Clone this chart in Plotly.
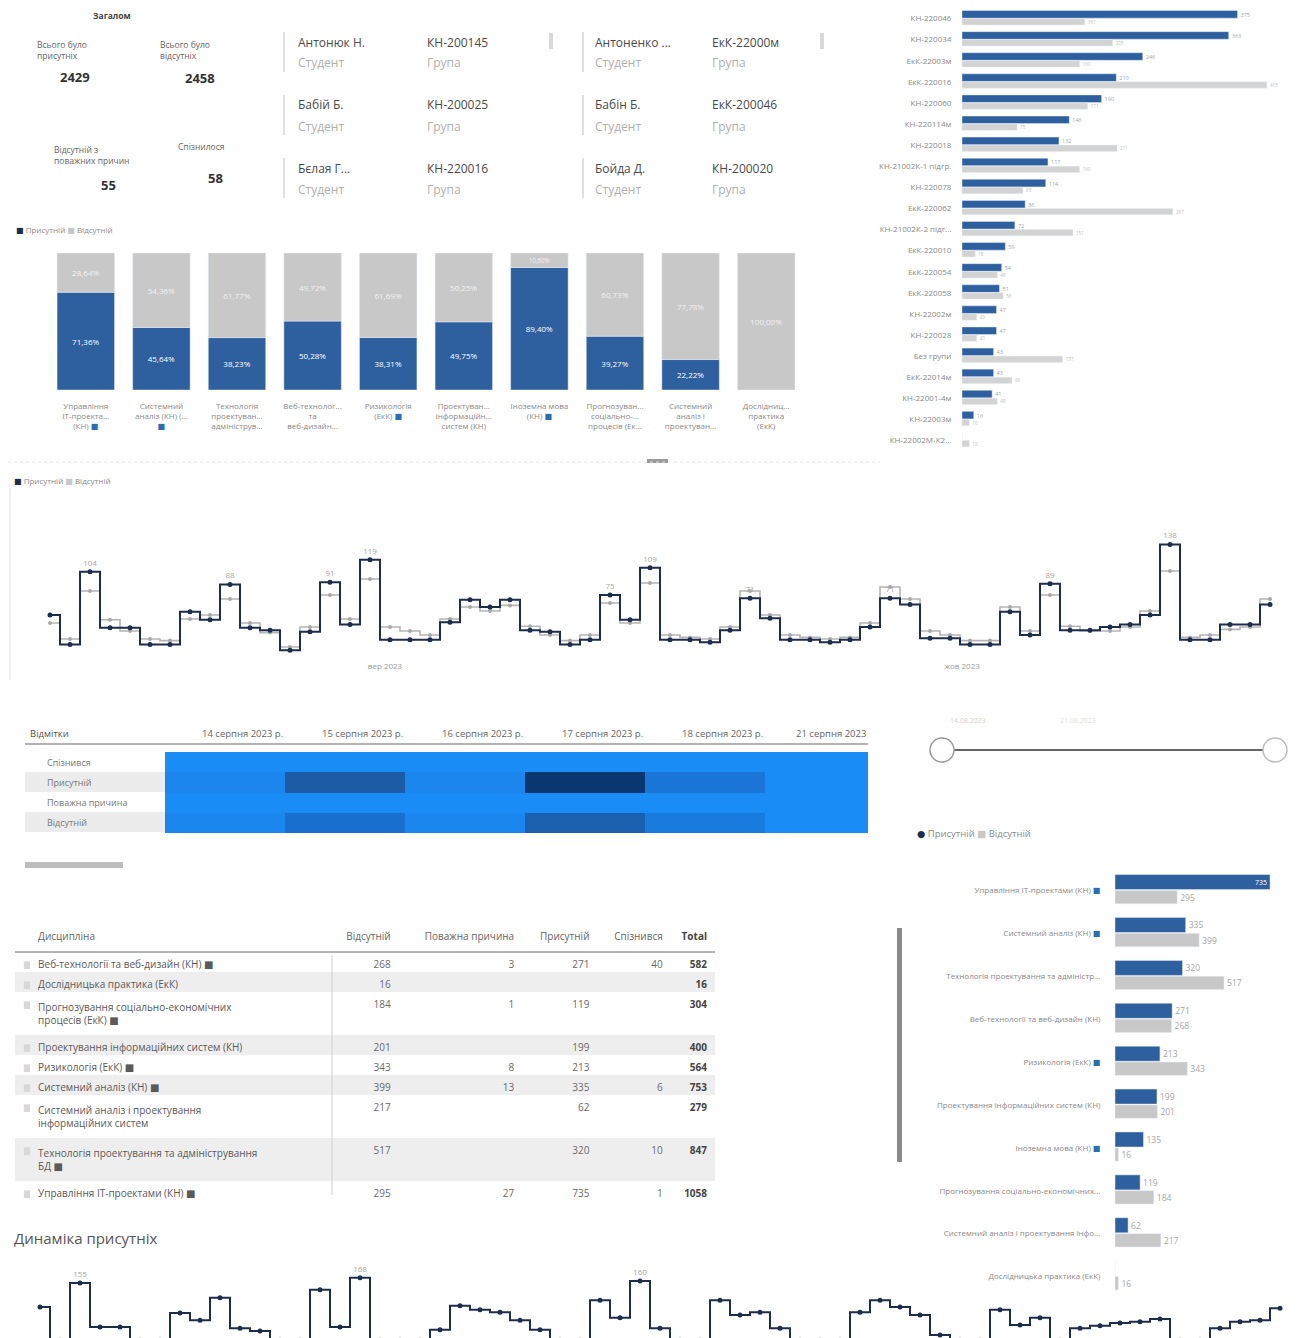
import plotly.graph_objects as go

W, H = 1306, 1338
OFF = 8  # default page body margin
FW, FH = W - OFF, H - OFF
def X(p): return (p - OFF) / FW
def Y(p): return 1 - (p - OFF) / FH
def D(a, b): return [min(max(a, 0), 1), min(max(b, 0), 1)]

BLUE = "#2e5f9e"
NAVY = "#1d2e4d"
GRAY = "#c8c8c8"
TXT = "#605e5c"
LT = "#a6a6a6"
FONT = "Open Sans, Noto Sans, DejaVu Sans, sans-serif"
CHK = "<span style='color:#2a6db5'>■</span>"
NB = "\u00a0"

# ---------------- DATA ----------------
kpi_title = "Загалом"
kpi_labels = ["Всього було<br>присутніх", "Всього було<br>відсутніх",
              "Відсутній з<br>поважних причин", "Спізнилося"]
kpi_values = [2429, 2458, 55, 58]

students = ["Антонюк Н.", "Антоненко ...", "Бабій Б.", "Бабін Б.", "Бєлая Г...", "Бойда Д."]
student_groups = ["КН-200145", "ЕкК-22000м", "КН-200025", "ЕкК-200046", "КН-220016", "КН-200020"]

groups = ["КН-220046", "КН-220034", "ЕкК-22003м", "ЕкК-220016", "КН-220060", "КН-220114м",
          "КН-220018", "КН-21002К-1 підгр.", "КН-220078", "ЕкК-220062", "КН-21002К-2 підг...",
          "ЕкК-220010", "ЕкК-220054", "ЕкК-220058", "КН-22002м", "КН-220028", "Без групи",
          "ЕкК-22014м", "КН-22001-4м", "КН-22003м", "КН-22002М-К2..."]
grp_present = [375, 363, 246, 210, 190, 146, 132, 117, 114, 86, 72, 59, 54, 51, 47, 47, 43, 43, 41, 16, 0]
grp_absent = [167, 205, 160, 415, 171, 75, 211, 160, 83, 287, 151, 18, 48, 56, 20, 20, 137, 68, 48, 10, 10]

# disciplines ordered by present (column chart and bottom-right bar chart)
disc_short_col = ["Управління<br>ІТ-проекта...<br>(КН) " + CHK,
                  "Системний<br>аналіз (КН) (...<br>" + CHK,
                  "Технологія<br>проектуван...<br>адмініструв...",
                  "Веб-технолог...<br>та<br>веб-дизайн...",
                  "Ризикологія<br>(ЕкК) " + CHK,
                  "Проектуван...<br>інформаційн...<br>систем (КН)",
                  "Іноземна мова<br>(КН) " + CHK,
                  "Прогнозуван...<br>соціально-...<br>процесів (Ек...",
                  "Системний<br>аналіз і<br>проектуван...",
                  "Дослідниц...<br>практика<br>(ЕкК)"]
disc_short_bar = ["Управління IT-проектами (КН) " + CHK,
                  "Системний аналіз (КН) " + CHK,
                  "Технологія проектування та адміністр...",
                  "Веб-технології та веб-дизайн (КН)",
                  "Ризикологія (ЕкК) " + CHK,
                  "Проектування інформаційних систем (КН)",
                  "Іноземна мова (КН) " + CHK,
                  "Прогнозування соціально-економічних...",
                  "Системний аналіз і проектування інфо...",
                  "Дослідницька практика (ЕкК)"]
disc_present = [735, 335, 320, 271, 213, 199, 135, 119, 62, 0]
disc_absent = [295, 399, 517, 268, 343, 201, 16, 184, 217, 16]

# daily step chart (top)
day_present = [50, 13, 104, 34, 34, 13, 13, 54, 44, 88, 34, 31, 6, 29, 91, 38, 119, 19, 19, 19, 41, 69,
               60, 69, 31, 29, 13, 19, 75, 44, 109, 19, 19, 16, 31, 71, 46, 19, 19, 16, 19, 35, 71, 63,
               21, 21, 13, 13, 54, 25, 89, 31, 31, 35, 38, 50, 138, 19, 19, 38, 38, 63]
day_absent = [40, 20, 80, 44, 30, 20, 18, 45, 50, 70, 40, 28, 10, 35, 75, 45, 95, 35, 30, 25, 45, 60,
              55, 62, 36, 25, 18, 25, 65, 40, 90, 25, 22, 20, 35, 80, 50, 25, 22, 20, 22, 40, 85, 70,
              30, 25, 18, 18, 60, 30, 75, 36, 30, 30, 35, 55, 105, 22, 25, 32, 35, 70]
month_ticks = ["вер 2023", "жов 2023"]

# matrix
mark_rows = ["Спізнився", "Присутній", "Поважна причина", "Відсутній"]
mark_dates = ["14 серпня 2023 р.", "15 серпня 2023 р.", "16 серпня 2023 р.",
              "17 серпня 2023 р.", "18 серпня 2023 р.", "21 серпня 2023"]
mark_z = [[0, 0, 0, 0, 0, 0],
          [1, 9, 1, 14, 4, 0],
          [0, 0, 0, 0, 0, 0],
          [1, 5, 1, 8, 3, 0]]

# table
tbl_head = ["", "Дисципліна", "Відсутній", "Поважна причина", "Присутній", "Спізнився", "Total"]
tbl_names = ["Веб-технології та веб-дизайн (КН) ■",
             "Дослідницька практика (ЕкК)",
             "Прогнозування соціально-економічних<br>процесів (ЕкК) ■",
             "Проектування інформаційних систем (КН)",
             "Ризикологія (ЕкК) ■",
             "Системний аналіз (КН) ■",
             "Системний аналіз і проектування<br>інформаційних систем",
             "Технологія проектування та адміністрування<br>БД ■",
             "Управління IT-проектами (КН) ■"]
tbl_absent = [268, 16, 184, 201, 343, 399, 217, 517, 295]
tbl_excused = [3, None, 1, None, 8, 13, None, None, 27]
tbl_present = [271, None, 119, 199, 213, 335, 62, 320, 735]
tbl_late = [40, None, None, None, None, 6, None, 10, 1]

# dynamics (bottom)
dyn_present = [95, 12, 155, 45, 45, 12, 12, 80, 62, 118, 42, 35, 12, 12, 138, 45, 168, 12, 12, 12, 38,
               98, 88, 82, 62, 38, 12, 12, 112, 68, 160, 42, 12, 12, 112, 75, 82, 42, 12, 12, 12, 82,
               112, 95, 75, 25, 12, 12, 88, 50, 68, 12, 42, 48, 55, 58, 65, 12, 12, 42, 58, 62, 92]

# ---------------- FIGURE ----------------
fig = go.Figure()

# bottom dynamics first (drawn beneath other subplots' marks)
dd = list(range(len(dyn_present)))
fig.add_trace(go.Scatter(x=dd, y=dyn_present, mode="lines+markers+text", line=dict(shape="hvh", color=NAVY, width=2),
                         marker=dict(size=5, color=NAVY),
                         text=[str(v) if v >= 150 else "" for v in dyn_present], textposition="top center",
                         textfont=dict(size=8, color=LT), xaxis="x6", yaxis="y6"))

# top-right grouped horizontal bars
gi = list(range(len(groups)))
fig.add_trace(go.Bar(x=grp_present, y=gi, orientation="h", marker_color=BLUE, offset=-0.38, width=0.36,
                     text=[str(v) if v else "" for v in grp_present], textposition="outside",
                     textfont=dict(size=8, color=LT), cliponaxis=False, xaxis="x", yaxis="y"))
fig.add_trace(go.Bar(x=grp_absent, y=gi, orientation="h", marker_color="#d3d3d3", offset=0.0, width=0.3,
                     text=[str(v) for v in grp_absent], textposition="outside",
                     textfont=dict(size=8, color="#bdbdbd"), cliponaxis=False, xaxis="x", yaxis="y"))

# 100% stacked columns
ci = list(range(len(disc_present)))
pct = [p / (p + a) * 100 if (p + a) else 0 for p, a in zip(disc_present, disc_absent)]
pct_abs = [100 - p for p in pct]
fmt = lambda v: (f"{v:.2f}%").replace(".", ",")
fig.add_trace(go.Bar(x=ci, y=pct, marker_color=BLUE, width=0.76,
                     text=[fmt(v) if v > 0 else "" for v in pct], textposition="inside",
                     insidetextanchor="middle", textfont=dict(size=8, color="white"),
                     xaxis="x2", yaxis="y2"))
fig.add_trace(go.Bar(x=ci, y=pct_abs, base=pct, marker_color=GRAY, width=0.76,
                     text=[fmt(v) for v in pct_abs], textposition="inside",
                     insidetextanchor="middle", textfont=dict(size=8, color="#f2f2f2"),
                     xaxis="x2", yaxis="y2"))

# top step chart
di = list(range(len(day_present)))
fig.add_trace(go.Scatter(x=di, y=day_absent, mode="lines+markers", line=dict(shape="hvh", color="#b5b5b5", width=1.6),
                         marker=dict(size=4, color="#a8a8a8"), xaxis="x3", yaxis="y3"))
fig.add_trace(go.Scatter(x=di, y=day_present, mode="lines+markers+text", line=dict(shape="hvh", color=NAVY, width=2),
                         marker=dict(size=5, color=NAVY),
                         text=[str(v) if v >= 70 else "" for v in day_present], textposition="top center",
                         textfont=dict(size=8, color=LT), cliponaxis=False, xaxis="x3", yaxis="y3"))

# matrix heatmap
fig.add_trace(go.Heatmap(z=mark_z, x=list(range(len(mark_dates))), y=list(range(len(mark_rows))),
                         colorscale=[[0, "#1a8cf5"], [0.3, "#1a74d6"], [0.65, "#1d5aa5"], [1, "#0b3770"]],
                         zmin=0, zmax=14, showscale=False, xaxis="x4", yaxis="y4", hoverinfo="skip"))

# bottom-right bars
bi = list(range(len(disc_present)))
fig.add_trace(go.Bar(x=disc_present, y=bi, orientation="h", marker_color=BLUE, offset=-0.37, width=0.35,
                     text=[str(v) if v else "" for v in disc_present],
                     textposition=["inside"] + ["outside"] * (len(bi) - 1), insidetextanchor="end",
                     textfont=dict(size=8.5, color=["white"] + [LT] * (len(bi) - 1)), cliponaxis=False,
                     xaxis="x5", yaxis="y5"))
fig.add_trace(go.Bar(x=disc_absent, y=bi, orientation="h", marker_color=GRAY, offset=0.0, width=0.31,
                     text=[str(v) for v in disc_absent], textposition="outside",
                     textfont=dict(size=8.5, color=LT), cliponaxis=False, xaxis="x5", yaxis="y5"))

# table (non-breaking spaces keep single-line rows compact)
def s(v): return "" if v is None else str(v)
def nb(t): return t.replace(" ", NB)
tbl_total = [sum(x or 0 for x in r) for r in zip(tbl_absent, tbl_excused, tbl_present, tbl_late)]
n = len(tbl_names)
fills = ["white" if i % 2 == 0 else "#eeeeee" for i in range(n)]
icon_col = ["■"] * n
fig.add_trace(go.Table(
    domain=dict(x=D(X(15), X(715)), y=D(Y(1215), Y(924))),
    columnwidth=[15, 302, 65, 123, 75, 73, 44],
    header=dict(values=[nb(h) for h in tbl_head],
                align=["left", "left", "right", "right", "right", "right", "right"],
                font=dict(size=10, color=["#666"] * 6 + ["#444"], family=FONT,
                          weight=["normal"] * 6 + ["bold"]),
                fill_color="white", line_color="white", height=28),
    cells=dict(values=[icon_col, [nb(t) for t in tbl_names], [s(v) for v in tbl_absent], [s(v) for v in tbl_excused],
                       [s(v) for v in tbl_present], [s(v) for v in tbl_late], [s(v) for v in tbl_total]],
               align=["left", "left", "right", "right", "right", "right", "right"],
               font=dict(size=10, family=FONT,
                         color=["#d8d8d8", "#5a5a5a", "#6a6a6a", "#6a6a6a", "#6a6a6a", "#6a6a6a", "#444"],
                         weight=["normal"] * 6 + ["bold"]),
               fill_color=[fills] * 7, line_color="rgba(0,0,0,0)", height=20)))

# ---------------- AXES ----------------
noax = dict(showgrid=False, zeroline=False, showline=False, fixedrange=True)
fig.update_layout(
    xaxis=dict(domain=D(X(962), X(1300)), range=[0, 460], visible=False, anchor="y", **noax),
    yaxis=dict(domain=D(Y(451), Y(8)), range=[len(groups) - 0.5, -0.5], tickvals=gi, ticktext=groups, anchor="x",
               tickfont=dict(size=8, color="#8a8a8a"), ticks="outside", ticklen=8, tickcolor="white", **noax),
    xaxis2=dict(domain=D(X(48), X(804)), range=[-0.5, 9.5], tickvals=ci, ticktext=disc_short_col, anchor="y2",
                tickfont=dict(size=8, color="#8a8a8a"), ticks="outside", ticklen=8, tickcolor="white", **noax),
    yaxis2=dict(domain=D(Y(390), Y(253)), range=[0, 100], visible=False, anchor="x2", **noax),
    xaxis3=dict(domain=D(X(40), X(1280)), range=[-0.5, 61.5], tickvals=[16.75, 45.6], ticktext=month_ticks,
                anchor="y3", tickfont=dict(size=8, color="#9a9a9a"), **noax),
    yaxis3=dict(domain=D(Y(660), Y(500)), range=[-6.25, 193.75], visible=False, anchor="x3", **noax),
    xaxis4=dict(domain=D(X(165), X(868)), range=[-0.5, 5.36], visible=False, anchor="y4", **noax),
    yaxis4=dict(domain=D(Y(833), Y(752)), range=[3.5, -0.5], visible=False, anchor="x4", **noax),
    xaxis5=dict(domain=D(X(1115), X(1300)), range=[0, 877], visible=False, anchor="y5", **noax),
    yaxis5=dict(domain=D(Y(1298), Y(869)), range=[len(bi) - 0.5, -0.5], tickvals=bi, ticktext=disc_short_bar,
                anchor="x5", tickfont=dict(size=8, color="#8a8a8a"), ticks="outside", ticklen=12,
                tickcolor="white", **noax),
    xaxis6=dict(domain=D(X(30), X(1290)), range=[-0.5, 62.5], visible=False, anchor="y6", **noax),
    yaxis6=dict(domain=D(0, Y(1255)), range=[17.5, 225], visible=False, anchor="x6", **noax),
)

# ---------------- ANNOTATIONS ----------------
ann = []
def A(px, py, text, size=9, color=TXT, xa="left", ya="middle", **kw):
    ann.append(dict(x=X(px), y=Y(py), xref="paper", yref="paper", text=text, showarrow=False,
                    xanchor=xa, yanchor=ya, align=xa if xa != "center" else "center",
                    font=dict(size=size, color=color, family=FONT), **kw))

A(112, 15, "<b>" + kpi_title + "</b>", size=8.5, color="#444", xa="center")
kpi_lab_pos = [(35, 50), (158, 50), (52, 155), (176, 147)]
kpi_val_pos = [(75, 77), (200, 78), (108, 185), (215, 178)]
for (lx, ly), (vx, vy), lab, val in zip(kpi_lab_pos, kpi_val_pos, kpi_labels, kpi_values):
    A(lx, ly, lab, size=8.5, color="#666")
    A(vx, vy, f"<b>{val}</b>", size=13, color="#333", xa="center")

card_x = [(296, 425), (593, 710)]
card_y = [(42, 63), (104, 126), (168, 190)]
for k, (nm, gr) in enumerate(zip(students, student_groups)):
    (nx, gx) = card_x[k % 2]
    (ny, sy) = card_y[k // 2]
    A(nx, ny, nm, size=12, color="#4a4a4a")
    A(nx, sy, "Студент", size=12, color="#b0b0b0")
    A(gx, ny, gr, size=12, color="#4a4a4a")
    A(gx, sy, "Група", size=12, color="#b0b0b0")

legend2 = f"<span style='color:{NAVY}'>■</span> Присутній <span style='color:{GRAY}'>■</span> Відсутній"
A(14, 230, legend2, size=8, color="#8a8a8a")
A(12, 481, legend2, size=8, color="#8a8a8a")
A(915, 833, f"<span style='color:{NAVY}'>●</span> Присутній <span style='color:{GRAY}'>■</span> Відсутній",
  size=9.5, color="#8a8a8a")

A(28, 733, "Відмітки", size=9.5, color="#555")
for j, d in enumerate(mark_dates):
    ann.append(dict(x=min(j + 0.5, 5.36), y=Y(733), xref="x4", yref="paper", text=d, showarrow=False,
                    xanchor="right", yanchor="middle", font=dict(size=9.5, color="#666", family=FONT)))
for r, nm in enumerate(mark_rows):
    ann.append(dict(x=X(45), y=r, xref="paper", yref="y4", text=nm, showarrow=False, xanchor="left",
                    yanchor="middle", font=dict(size=9, color="#777", family=FONT)))

A(968, 720, "14.08.2023", size=7, color="#cfcfcf", xa="center")
A(1078, 720, "21.08.2023", size=7, color="#dedede", xa="center")
A(12, 1238, "Динаміка присутніх", size=15, color="#555")

# ---------------- SHAPES ----------------
shp = []
def line(x0, y0, x1, y1, color="#d0d0d0", w=1, dash="solid"):
    shp.append(dict(type="line", xref="paper", yref="paper", x0=X(x0), y0=Y(y0), x1=X(x1), y1=Y(y1),
                    line=dict(color=color, width=w, dash=dash)))
def rect(x0, y0, x1, y1, fill, lc=None, lw=0, kind="rect"):
    shp.append(dict(type=kind, xref="paper", yref="paper", x0=X(x0), y0=Y(y0), x1=X(x1), y1=Y(y1),
                    fillcolor=fill, line=dict(color=lc or fill, width=lw), layer="below" if kind == "rect" else "above"))

for cx in (284, 583):
    for (a, b) in ((32, 72), (95, 135), (158, 198)):
        line(cx, a, cx, b, color="#d6d6d6", w=1.5)
rect(549, 33, 553, 49, "#d9d9d9")
rect(820, 33, 824, 49, "#d9d9d9")

line(8, 462, 880, 462, color="#e2e2e2", w=1, dash="dot")
rect(647, 459, 668, 463, "#9a9a9a")
line(10, 488, 10, 680, color="#e0e0e0", w=1)

# matrix decorations
rect(25, 772, 165, 792, "#ececec")
rect(25, 812, 165, 832, "#ececec")
line(25, 744, 868, 744, color="#666", w=1)
rect(25, 862, 123, 868, "#bdbdbd")

# slider
line(952, 750, 1265, 750, color="#666", w=2)
rect(930, 738, 954, 762, "white", lc="#9a9a9a", lw=1.5, kind="circle")
rect(1263, 738, 1287, 762, "white", lc="#bdbdbd", lw=1.5, kind="circle")

# table decorations
line(15, 952, 715, 952, color="#666", w=1)
line(332, 955, 332, 1195, color="#d0d0d0", w=1)
rect(135, 1193, 152, 1197, "#9a9a9a")

# scrollbar near bottom-right chart
rect(897, 928, 902, 1162, "#8a8a8a")

fig.update_layout(
    width=FW, height=FH, margin=dict(l=0, r=0, t=0, b=0),
    paper_bgcolor="white", plot_bgcolor="rgba(0,0,0,0)",
    showlegend=False, barmode="overlay",
    font=dict(family=FONT, color=TXT),
    annotations=ann, shapes=shp,
)

fig.write_html("out.html")
